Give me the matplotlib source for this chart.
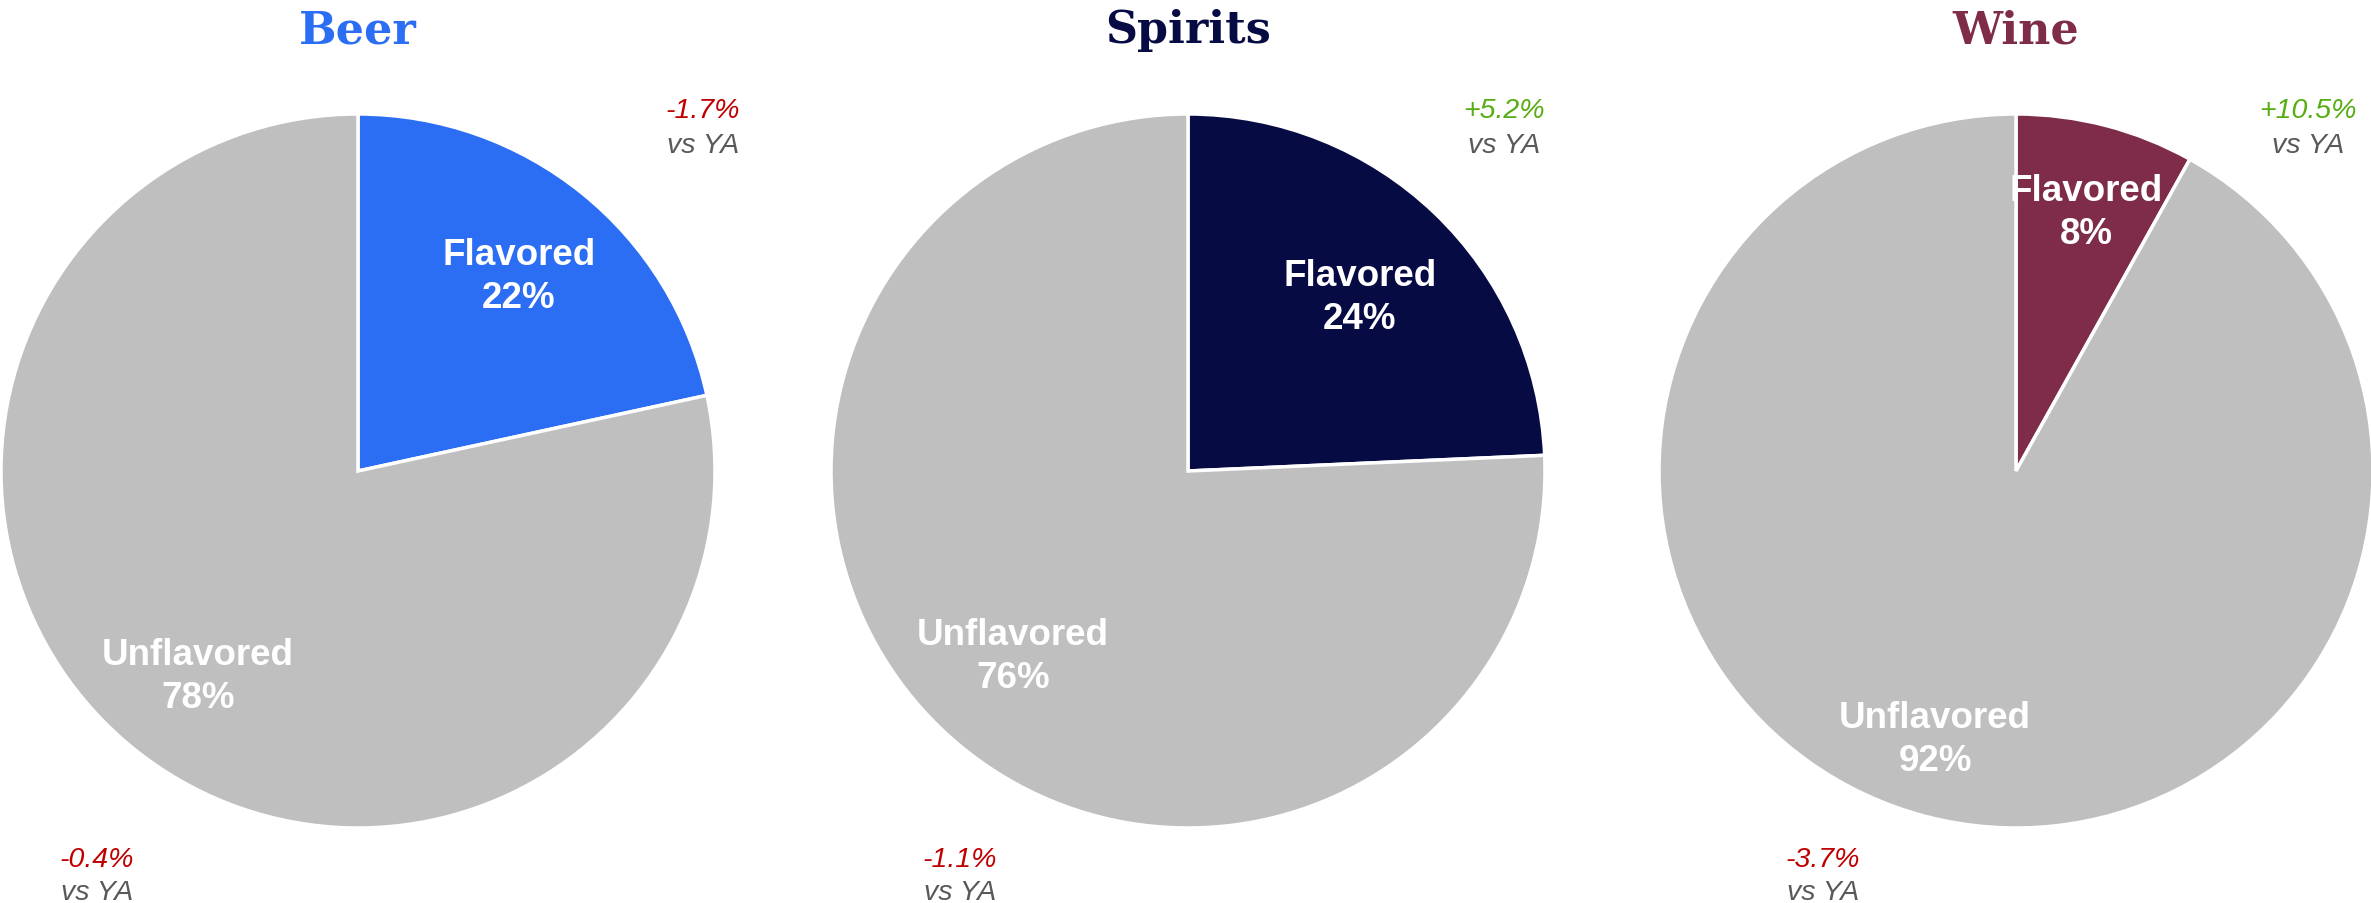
import numpy as np
import matplotlib.pyplot as plt

categories = ["Beer", "Spirits", "Wine"]
flavored = [21.6, 24.3, 8.1]
unflavored = [78.4, 75.7, 91.9]
flavored_chg = ["-1.7%", "+5.2%", "+10.5%"]
unflavored_chg = ["-0.4%", "-1.1%", "-3.7%"]

# colours
cat_colors = ["#2B6EF3", "#070B43", "#7F2C4B"]
grey = "#BFBFBF"
red = "#C00000"
green = "#56AE12"
txt_grey = "#595959"

# layout in pixels (figure is 2371 x 904)
W, H = 2371, 904
centers_x = [358, 1188, 2016]
center_y = 472
radius = 357
flav_lab = [(519, 277), (1360, 298), (2086, 213)]
unfl_lab = [(198, 677), (1013, 657), (1935, 740)]
top_note_x = [703, 1504, 2308]
bot_note_x = [97, 960, 1823]

fig = plt.figure(figsize=(W / 100, H / 100), dpi=100)
ax = fig.add_axes([0, 0, 1, 1])

for i, cat in enumerate(categories):
    cx = centers_x[i]
    ax.pie([flavored[i], unflavored[i]], colors=[cat_colors[i], grey],
           startangle=90, counterclock=False, radius=radius,
           center=(cx, H - center_y),
           wedgeprops=dict(edgecolor="white", linewidth=2.5))

    # title
    ax.text(cx, H - 43, cat, ha="center", va="baseline", fontsize=32,
            fontweight="bold", family="DejaVu Serif", color=cat_colors[i])

    # slice labels
    fx, fy = flav_lab[i]
    ax.text(fx, H - fy, "Flavored\n%.0f%%" % flavored[i], ha="center", va="center",
            fontsize=26.5, fontweight="bold", family="Liberation Sans",
            color="white", linespacing=1.27)
    ux, uy = unfl_lab[i]
    ax.text(ux, H - uy, "Unflavored\n%.0f%%" % unflavored[i], ha="center", va="center",
            fontsize=26.5, fontweight="bold", family="Liberation Sans",
            color="white", linespacing=1.27)

    # vs YA notes
    c = green if flavored_chg[i].startswith("+") else red
    ax.text(top_note_x[i], H - 111, flavored_chg[i], ha="center", va="center",
            fontsize=20.5, style="italic", family="Liberation Sans", color=c)
    ax.text(top_note_x[i], H - 146, "vs YA", ha="center", va="center",
            fontsize=20.5, style="italic", family="Liberation Sans", color=txt_grey)
    c = green if unflavored_chg[i].startswith("+") else red
    ax.text(bot_note_x[i], H - 860, unflavored_chg[i], ha="center", va="center",
            fontsize=20.5, style="italic", family="Liberation Sans", color=c)
    ax.text(bot_note_x[i], H - 893, "vs YA", ha="center", va="center",
            fontsize=20.5, style="italic", family="Liberation Sans", color=txt_grey)

ax.set_xlim(0, W)
ax.set_ylim(0, H)
ax.set_aspect("auto")
ax.set_axis_off()

fig.savefig("out.png", dpi=100, facecolor="white")
